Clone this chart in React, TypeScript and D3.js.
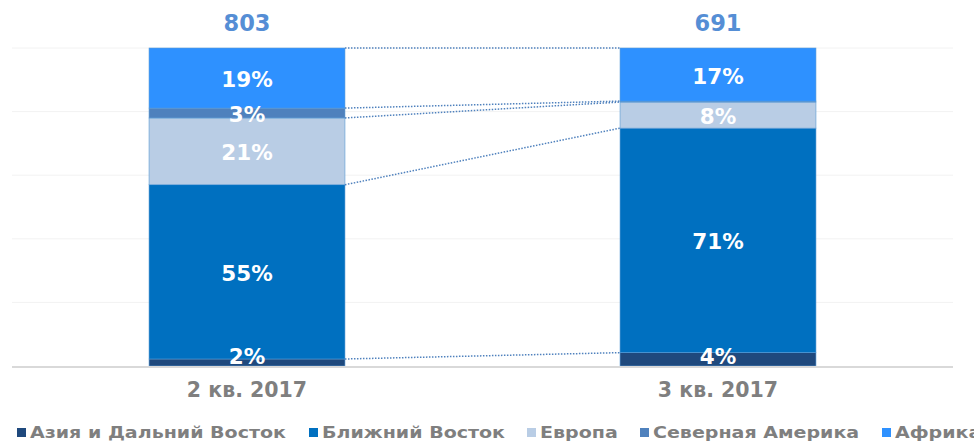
import { useEffect } from 'react';
import * as d3 from 'd3';

const categories = ['2 кв. 2017', '3 кв. 2017'];
const totals = [803, 691];
const regions = ['Азия и Дальний Восток', 'Ближний Восток', 'Европа', 'Северная Америка', 'Африка'];
const colors = ['#1f497d', '#0070c0', '#b9cde5', '#4f81bd', '#2e91ff'];
// shares (%) per region, order as in `regions`
const q2Shares = [2.2, 54.8, 21.0, 3.1, 18.9];
const q3Shares = [4.2, 70.6, 8.2, 0.3, 16.7];
const shares = [q2Shares, q3Shares];
const yTicks = [0, 20, 40, 60, 80, 100];

const W = 974;
const H = 445;
const legendX = [17, 309, 527, 640, 882];

const font = '"DejaVu Sans", Verdana, sans-serif';

const App = () => {
  useEffect(() => {
    document.body.style.margin = '0';
  }, []);

  const x = d3.scaleBand<string>()
    .domain(categories)
    .range([11.5, 953.5])
    .paddingInner(0.584)
    .paddingOuter(0.292);
  const y = d3.scaleLinear().domain([0, 100]).range([366, 48]);

  const stacks = shares.map(s => {
    let acc = 0;
    return s.map((v, i) => {
      const seg = { key: regions[i], y0: acc, y1: acc + v, v, color: colors[i] };
      acc += v;
      return seg;
    });
  });

  // dotted connectors join the top edge of every segment across the two bars
  const links = regions.map((_, i) => [stacks[0][i].y1, stacks[1][i].y1]);

  const bw = x.bandwidth();
  const x1 = (x(categories[0]) ?? 0) + bw;
  const x2 = x(categories[1]) ?? 0;

  return (
    <svg width={W} height={H} style={{ display: 'block', background: '#fff' }}>
      {yTicks.slice(1).map(t => (
        <line key={t} x1={12} x2={953} y1={y(t)} y2={y(t)} stroke="#f2f2f2" strokeWidth={1} />
      ))}
      {stacks.map((st, ci) => (
        <g key={ci}>
          {st.map(seg => (
            <rect
              key={seg.key}
              x={x(categories[ci])}
              y={y(seg.y1)}
              width={bw}
              height={y(seg.y0) - y(seg.y1)}
              fill={seg.color}
              stroke="#5b9bd5"
              strokeWidth={0.6}
            />
          ))}
        </g>
      ))}
      <line x1={12} x2={953} y1={367} y2={367} stroke="#d9d9d9" strokeWidth={2} />
      {links.map(([a, b], i) => (
        <line
          key={i}
          x1={x1}
          x2={x2}
          y1={y(a)}
          y2={y(b)}
          stroke="#4f81bd"
          strokeWidth={1.5}
          strokeDasharray="1.5,1.5"
        />
      ))}
      {stacks.map((st, ci) => (
        <g key={'l' + ci}>
          {st.filter(seg => Math.round(seg.v) > 0).map(seg => {
            const cy = Math.min((y(seg.y0) + y(seg.y1)) / 2 + 1.5, 356);
            return (
              <text
                key={seg.key}
                x={(x(categories[ci]) ?? 0) + bw / 2}
                y={cy}
                textAnchor="middle"
                dominantBaseline="central"
                fill="#fff"
                fontFamily={font}
                fontWeight="bold"
                fontSize={21.5}
              >
                {Math.round(seg.v)}%
              </text>
            );
          })}
        </g>
      ))}
      {categories.map((c, ci) => (
        <g key={'c' + c}>
          <text
            x={(x(c) ?? 0) + bw / 2}
            y={23}
            textAnchor="middle"
            dominantBaseline="central"
            fill="#558ed5"
            fontFamily={font}
            fontWeight="bold"
            fontSize={22.5}
          >
            {totals[ci]}
          </text>
          <text
            x={(x(c) ?? 0) + bw / 2}
            y={390}
            textAnchor="middle"
            dominantBaseline="central"
            fill="#7f7f7f"
            fontFamily={font}
            fontWeight="bold"
            fontSize={20.5}
          >
            {c}
          </text>
        </g>
      ))}
      {regions.map((r, i) => (
        <g key={'lg' + r} transform={`translate(${legendX[i]},428)`}>
          <rect x={0} y={0} width={9} height={9} fill={colors[i]} />
          <text
            transform="translate(13,5) scale(1.27,1)"
            dominantBaseline="central"
            fill="#7f7f7f"
            fontFamily={font}
            fontWeight="bold"
            fontSize={15}
          >
            {r}
          </text>
        </g>
      ))}
    </svg>
  );
};

export default App;
